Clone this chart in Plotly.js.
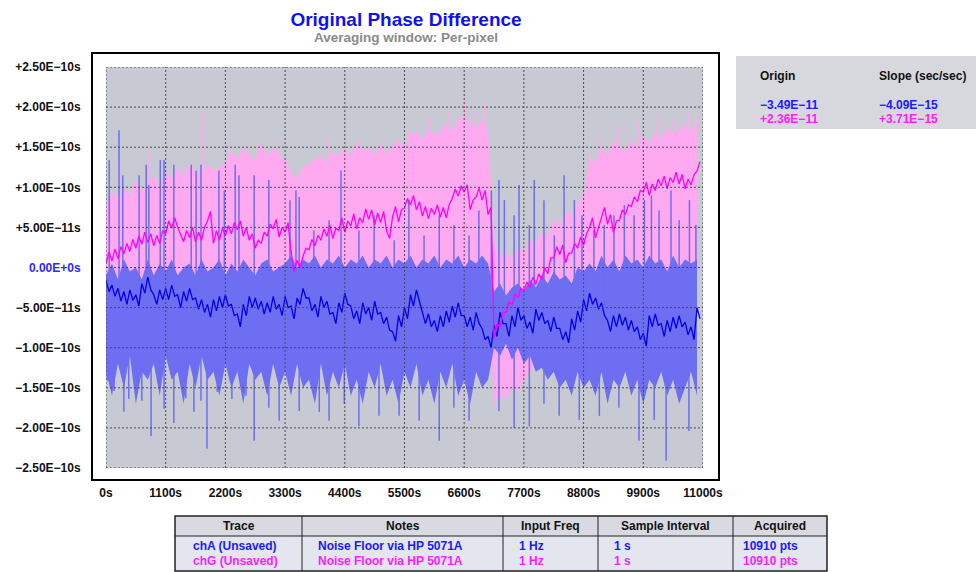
<!DOCTYPE html>
<html><head><meta charset="utf-8">
<script src="https://cdn.plot.ly/plotly-3.0.1.min.js"></script>
<style>html,body{margin:0;padding:0;background:#fff;}#chart{width:976px;height:572px;}</style>
</head><body><div id="chart"></div>
<script>
// ---- data (values in units of 1E-11 s) ----
// envelope sampling times (s)
const T = [0,110,220,330,440,550,660,770,880,990,
1100,1210,1320,1430,1540,1650,1760,1870,1980,2090,
2200,2310,2420,2530,2640,2750,2860,2970,3080,3190,
3300,3410,3520,3630,3740,3850,3960,4070,4180,4290,
4400,4510,4620,4730,4840,4950,5060,5170,5280,5390,
5500,5610,5720,5830,5940,6050,6160,6270,6380,6490,
6600,6710,6820,6930,7040,7150,7260,7370,7480,7590,
7700,7810,7920,8030,8140,8250,8360,8470,8580,8690,
8800,8910,9020,9130,9240,9350,9460,9570,9680,9790,
9900,10010,10120,10230,10340,10450,10560,10670,10780,10890];

// per-pixel average line sampling times (s)
const T2 = [0,55,110,165,220,275,330,385,440,495,550,605,660,715,770,825,880,935,990,1045,
1100,1155,1210,1265,1320,1375,1430,1485,1540,1595,1650,1705,1760,1815,1870,1925,1980,2035,2090,2145,
2200,2255,2310,2365,2420,2475,2530,2585,2640,2695,2750,2805,2860,2915,2970,3025,3080,3135,3190,3245,
3300,3355,3410,3465,3520,3575,3630,3685,3740,3795,3850,3905,3960,4015,4070,4125,4180,4235,4290,4345,
4400,4455,4510,4565,4620,4675,4730,4785,4840,4895,4950,5005,5060,5115,5170,5225,5280,5335,5390,5445,
5500,5555,5610,5665,5720,5775,5830,5885,5940,5995,6050,6105,6160,6215,6270,6325,6380,6435,6490,6545,
6600,6655,6710,6765,6820,6875,6930,6985,7040,7095,7150,7205,7260,7315,7370,7425,7480,7535,7590,7645,
7700,7755,7810,7865,7920,7975,8030,8085,8140,8195,8250,8305,8360,8415,8470,8525,8580,8635,8690,8745,
8800,8855,8910,8965,9020,9075,9130,9185,9240,9295,9350,9405,9460,9515,9570,9625,9680,9735,9790,9845,
9900,9955,10010,10065,10120,10175,10230,10285,10340,10395,10450,10505,10560,10615,10670,10725,10780,10835,10890,10945];

const chG_mean = [0.5,1.9,0.8,2.3,1.1,2.6,1.7,3.0,2.0,3.5,2.4,3.9,2.9,4.4,3.1,4.2,2.7,4.0,3.0,4.6,
4.2,5.8,4.9,6.2,5.0,4.0,3.2,4.6,3.7,5.0,3.2,4.4,3.4,5.0,5.8,7.0,3.0,4.6,3.4,4.9,
4.0,5.2,4.2,5.6,4.7,5.8,3.9,5.0,3.4,4.2,2.4,3.4,3.0,4.4,3.9,5.4,4.8,6.0,3.8,5.0,
4.4,5.6,2.0,-0.6,0.9,0.0,1.4,2.4,2.2,3.5,2.7,4.0,3.4,4.8,3.9,5.3,3.6,4.9,4.6,6.2,
4.4,5.8,5.2,6.7,4.8,6.2,5.6,7.3,6.0,7.2,5.3,6.8,5.6,7.0,4.6,3.6,6.3,7.6,5.7,7.2,
7.4,8.6,7.8,9.0,7.2,8.2,6.4,7.6,6.1,7.4,6.6,7.8,6.3,7.5,6.2,7.9,8.6,9.8,8.9,10.2,
9.4,10.3,7.2,8.4,8.8,9.9,8.4,9.6,6.6,7.5,-8.8,-7.0,-7.4,-5.6,-5.6,-4.3,-4.6,-3.3,-3.8,-2.6,
-2.9,-1.8,-2.5,-1.2,-2.1,-0.8,-1.5,0.0,-0.8,1.2,1.2,2.6,1.6,2.8,0.6,1.8,1.8,3.0,2.4,3.8,
2.8,4.2,5.0,6.2,3.7,5.0,6.2,7.5,5.4,6.6,4.4,5.8,5.9,7.2,6.6,7.8,7.6,8.8,8.2,9.6,
9.4,10.6,9.0,10.4,9.6,11.0,10.2,11.4,9.8,11.2,10.6,11.9,10.4,11.6,9.8,11.0,10.3,11.6,12.0,13.2];

const chA_mean = [-1.6,-3.0,-2.2,-3.6,-2.6,-4.2,-3.0,-4.6,-2.8,-4.1,-3.4,-4.8,-2.0,-3.2,-1.2,-2.8,-3.4,-4.6,-2.8,-4.0,
-2.6,-4.0,-2.2,-3.6,-3.4,-5.0,-3.0,-4.2,-2.6,-4.0,-3.8,-5.2,-4.0,-5.6,-4.6,-6.2,-4.0,-5.4,-3.6,-5.0,
-3.4,-4.8,-4.6,-6.0,-5.8,-7.4,-4.6,-6.0,-3.6,-5.0,-3.8,-5.2,-4.2,-5.8,-4.4,-5.6,-3.6,-5.2,-4.6,-6.0,
-3.6,-5.0,-4.8,-6.4,-3.8,-4.6,-2.6,-3.8,-3.8,-5.4,-4.6,-6.2,-3.6,-5.0,-4.2,-5.8,-5.6,-7.0,-4.4,-5.6,
-3.2,-4.6,-4.8,-6.4,-5.4,-7.0,-4.4,-5.8,-5.0,-6.6,-4.2,-5.8,-5.6,-7.0,-6.2,-7.8,-8.0,-9.2,-6.0,-7.4,
-5.0,-6.4,-3.4,-4.8,-2.8,-4.2,-5.4,-7.0,-5.8,-7.4,-6.6,-8.0,-6.0,-7.4,-5.4,-6.8,-4.8,-6.2,-4.4,-6.0,
-6.0,-7.4,-6.2,-7.8,-5.6,-7.0,-7.6,-9.0,-8.6,-10.0,-7.2,-8.6,-5.6,-7.0,-7.0,-8.6,-6.0,-7.4,-5.0,-6.6,
-6.0,-7.6,-6.8,-8.2,-5.2,-6.6,-5.6,-7.0,-6.6,-8.0,-6.2,-7.6,-7.6,-9.0,-8.0,-9.4,-6.4,-7.8,-5.4,-6.8,
-4.0,-5.4,-3.2,-4.6,-3.8,-5.2,-4.4,-6.0,-6.6,-8.0,-6.0,-7.4,-5.8,-7.2,-6.2,-7.8,-6.6,-8.0,-7.4,-9.0,
-8.2,-9.8,-6.0,-7.4,-5.8,-7.2,-7.0,-8.6,-6.6,-8.0,-6.2,-7.6,-6.0,-7.4,-6.8,-8.4,-7.4,-9.0,-5.0,-6.4];

const chG_max = [8,9.5,8.5,10,9,11,9.5,10.5,11.5,10,
12,11,12.5,11.5,13,12,11.5,13,12,12.5,
13,14.5,13.5,15,14,13.5,15.5,14,15,14,
13.5,12,11,12.5,13,13.5,14,13,14.5,14,
15,14,15.5,14.5,15,14,15.5,14,15,16,
15,16.5,17,16,17.5,16.5,17,18,17,18.5,
19,18,17.5,18.5,17,3,1.5,2,1,2.5,
2,3.5,3,4.5,4,6,5.5,7,6.5,8,
9,14,13,15,14,16,15,14.5,16,15,
16.5,15.5,17,16,17.5,16.5,17,18,17,18.5];

const chG_min = [-2,-4,-3,-2.5,-4,-3,-2,-3.5,-4,-2.5,
-3,-4,-2.5,-3.5,-2,-4,-3,-2.5,-3.5,-4,
-3,-2,-4,-3.5,-2.5,-3,-4,-2,-3.5,-3,
-2.5,-5,-4.5,-4,-3,-3.5,-2.5,-4,-3,-2,
-3.5,-3,-2,-4,-2.5,-3,-3.5,-4,-2,-3,
-2.5,-3.5,-2,-3,-4,-2.5,-3,-2,-3.5,-2.5,
-3,-2,-3.5,-2.5,-3,-17,-16,-16.5,-15,-15.5,
-14,-13,-12,-11,-10,-9,-8,-7,-6,-5,
-2.5,-2,-2,-1.5,-1.5,-1,-1,-1.5,-1,-1,
-1.5,-1,-1,-1.5,-1,-1,-1.5,-1,-1,-1.5];

const chA_max = [-1,0.5,-1.5,1,-0.5,0,-1.5,1,-1,0.5,
-0.5,1,-1,0,0.5,-1,1,-0.5,0,1,
-1,0.5,-0.5,1,0,-1,0.5,1,-0.5,0,
0.5,1.5,0,1,0.5,1.5,0,1,0.5,1.5,
0,1,0.5,1.5,0,1,0.5,1.5,0,1,
0.5,1.5,0,1,0.5,1.5,0,1,0.5,1.5,
0,1,0.5,1.5,0.5,-3,-2,-3.5,-2.5,-2,
-3,-1.5,-2.5,-1,-2,-0.5,-1.5,-1,-2,0,
-0.5,0.5,-0.5,1.5,0,1,-0.5,1.5,0.5,1,
0,1.5,0.5,1,-0.5,1.5,0,1,0.5,1];

const chA_min = [-13,-16,-12,-15,-11,-17,-13,-14,-12,-16,
-11,-14,-13,-17,-12,-15,-11,-14,-13,-16,
-12,-15,-13,-17,-12,-14,-13,-16,-12,-15,
-13,-16,-12,-15,-14,-17,-12,-16,-13,-15,
-12,-16,-14,-17,-13,-15,-12,-16,-14,-17,
-13,-15,-12,-16,-14,-17,-13,-15,-12,-16,
-14,-17,-13,-15,-14,-10,-11,-9.5,-11.5,-10,
-12,-11,-13,-12.5,-14,-13,-15,-14,-16,-13,
-15,-14,-16,-13,-17,-14,-15,-13,-16,-14,
-17,-14,-15,-13,-16,-14,-17,-15,-13,-16];

// isolated extreme excursions (time s, tip value 1E-11 s)
const chA_upT = [60,240,310,610,740,790,1000,1070,1250,1570,1660,1750,2080,2180,2380,2450,2730,3000,3390,3500,3560,3830,4110,4330,4660,4940,5310,5580,5860,6140,6410,6690,6870,7100,7240,7340,7520,7610,7800,7890,8070,8260,8440,8630,8770,8990,9180,9360,9550,9730,9920,10050,10190,10410,10560,10750,10870];
const chA_upV = [13.4,17.1,11.5,11.5,12.8,10.3,13.4,13.4,12.8,12.8,12.1,12.8,12.1,9.6,12.8,11.5,11.5,10.9,8.4,9.6,8.8,4.6,5.9,12.1,4.6,6.5,3.4,8.4,4.0,6.5,5.3,4.0,7.1,9.6,10.9,8.4,6.5,10.3,5.3,10.9,8.4,4.0,11.5,8.4,6.5,4.6,5.3,6.5,7.8,6.5,8.4,9.0,7.1,9.6,5.9,8.4,5.3];
const chA_dnT = [20,150,330,420,660,830,1070,1250,1470,1620,1750,1860,2050,2320,2580,2730,3000,3190,3560,3930,4110,4390,4660,5030,5400,5770,6140,6410,6690,7240,7520,7800,8070,8350,8720,9090,9450,9820,10100,10320,10740];
const chA_dnV = [-14.1,-15.4,-18,-16.4,-16.6,-21.0,-17.6,-19.4,-16.3,-18,-16.6,-22.6,-15.5,-16.4,-16.0,-21.6,-17.5,-19.1,-17.9,-18,-19.1,-17,-19.8,-18.5,-18.5,-19.1,-21.6,-17.5,-19.1,-17.9,-20,-19.8,-17,-18.5,-19,-18.5,-17.5,-21.6,-19,-24.1,-20.4];
const chG_upT = [240,790,1770,2270,2820,3190,4110,4660,5220,5580,5950,6320,6600,6780,6970,9090,9450,9820,10190,10470,10740,10870];
const chG_upV = [13.4,14.6,19.3,15.9,15.3,15.9,16.5,15.9,15.9,17.1,19.0,19.6,20.9,19.6,20.3,16.5,17.8,18.4,19.0,18.4,19.6,19.0];

const xTickVals = [0,1100,2200,3300,4400,5500,6600,7700,8800,9900,11000];
const xTickText = ['0s','1100s','2200s','3300s','4400s','5500s','6600s','7700s','8800s','9900s','11000s'];
const yTickVals = [25,20,15,10,5,0,-5,-10,-15,-20,-25];
const yTickText = ['+2.50E\u221210s','+2.00E\u221210s','+1.50E\u221210s','+1.00E\u221210s','+5.00E\u221211s',
  '<span style="color:#2a2aff">0.00E+0s</span>','\u22125.00E\u221211s','\u22121.00E\u221210s','\u22121.50E\u221210s','\u22122.00E\u221210s','\u22122.50E\u221210s'];

const tableHead = ['Trace','Notes','Input Freq','Sample Interval','Acquired'];
const rowA = ['chA (Unsaved)','Noise Floor via HP 5071A','1 Hz','1 s','10910 pts'];
const rowG = ['chG (Unsaved)','Noise Floor via HP 5071A','1 Hz','1 s','10910 pts'];
const fitHead = ['Origin','Slope (sec/sec)'];
const fitA = ['\u22123.49E\u221211','\u22124.09E\u221215'];
const fitG = ['+2.36E\u221211','+3.71E\u221215'];

// ---- styling ----
const S = 1e-11;
const sc = a => a.map(v => v * S);
const BLUE = '#1a1aff', MAG = '#ff1aff';
const FONT = 'Liberation Sans, Arial, sans-serif';

function band(hi, lo, color) {
  return {x: T.concat(T.slice().reverse()), y: sc(hi.concat(lo.slice().reverse())),
    mode: 'lines', fill: 'toself', fillcolor: color, line: {width: 0, color: color}, hoverinfo: 'skip'};
}
function spikes(ts, vs, base, color) {
  const x = [], y = [];
  ts.forEach((t, i) => { x.push(t, t, null); y.push(vs[i] * S, base * S, null); });
  return {x, y, mode: 'lines', line: {width: 1.5, color: color}, hoverinfo: 'skip'};
}

const traces = [
  band(chG_max, chG_min, '#ffaaf0'),
  spikes(chG_upT, chG_upV, 5, '#ffaaf0'),
  band(chA_max, chA_min, '#6e6ef2'),
  spikes(chA_upT, chA_upV, -5, '#6e6ef2'),
  spikes(chA_dnT, chA_dnV, -5, '#6e6ef2'),
  {x: T2, y: sc(chA_mean), mode: 'lines', line: {color: '#0000e6', width: 1.3}},
  {x: T2, y: sc(chG_mean), mode: 'lines', line: {color: '#ff00ff', width: 1.3}}
];

// pixel -> paper helpers
const ML = 106, MT = 67, PW = 597, PH = 401;
const px = p => (p - ML) / PW;
const py = p => (MT + PH - p) / PH;

const shapes = [];
xTickVals.forEach(v => shapes.push({type: 'line', xref: 'x', yref: 'paper', x0: v, x1: v, y0: 0, y1: 1,
  line: {color: '#4a4a4a', width: 1, dash: '2px,2px'}, layer: 'above'}));
yTickVals.forEach(v => shapes.push({type: 'line', xref: 'paper', yref: 'y', x0: 0, x1: 1, y0: v * S, y1: v * S,
  line: {color: '#4a4a4a', width: 1, dash: '2px,2px'}, layer: 'above'}));
// frame
shapes.push({type: 'rect', xref: 'paper', yref: 'paper', x0: px(92), x1: px(719), y0: py(480), y1: py(53),
  line: {color: '#000', width: 2}, layer: 'above'});
// fit panel
shapes.push({type: 'rect', xref: 'paper', yref: 'paper', x0: px(736), x1: px(977), y0: py(129), y1: py(56),
  fillcolor: '#d6d8de', line: {width: 0}, layer: 'below'});
// table
const colX = [175, 302, 503, 598, 733, 827];
shapes.push({type: 'rect', xref: 'paper', yref: 'paper', x0: px(175), x1: px(827), y0: py(571), y1: py(536),
  fillcolor: '#e4e6ef', line: {width: 0}, layer: 'below'});
shapes.push({type: 'rect', xref: 'paper', yref: 'paper', x0: px(175), x1: px(827), y0: py(536), y1: py(516),
  fillcolor: '#d9dae1', line: {width: 0}, layer: 'below'});
shapes.push({type: 'rect', xref: 'paper', yref: 'paper', x0: px(175), x1: px(827), y0: py(571), y1: py(516),
  line: {color: '#222', width: 1.5}, layer: 'above'});
shapes.push({type: 'line', xref: 'paper', yref: 'paper', x0: px(175), x1: px(827), y0: py(536), y1: py(536),
  line: {color: '#222', width: 1}, layer: 'above'});
colX.slice(1, 5).forEach(c => shapes.push({type: 'line', xref: 'paper', yref: 'paper', x0: px(c), x1: px(c),
  y0: py(571), y1: py(516), line: {color: '#222', width: 1}, layer: 'above'}));

const anns = [];
function ann(text, x, y, color, xanchor, size, bold) {
  anns.push({text, x: px(x), y: py(y), xref: 'paper', yref: 'paper', showarrow: false,
    xanchor: xanchor, yanchor: 'middle',
    font: {family: FONT, size: size, color: color, weight: bold ? 'bold' : 'normal'}});
}
ann('Averaging window: Per-pixel', 406, 37, '#8a8a8a', 'center', 13.5, true);
ann(fitHead[0], 758, 76, '#111', 'left', 12, true);
ann(fitHead[1], 877, 76, '#111', 'left', 12, true);
ann(fitA[0], 758, 105, BLUE, 'left', 12, true);
ann(fitA[1], 877, 105, BLUE, 'left', 12, true);
ann(fitG[0], 758, 119, MAG, 'left', 12, true);
ann(fitG[1], 877, 119, MAG, 'left', 12, true);
tableHead.forEach((h, i) => ann(h, (colX[i] + colX[i + 1]) / 2, 526, '#111', 'center', 12, true));
const dataX = [191, 316, 517, 612, 741];
rowA.forEach((t, i) => ann(t, dataX[i], 546, BLUE, 'left', 12, true));
rowG.forEach((t, i) => ann(t, dataX[i], 561, MAG, 'left', 12, true));

const layout = {
  width: 976, height: 572,
  margin: {l: ML, r: 976 - ML - PW, t: MT, b: 572 - MT - PH},
  paper_bgcolor: '#ffffff', plot_bgcolor: '#c7cad2',
  showlegend: false, hovermode: false,
  title: {text: 'Original Phase Difference', x: 406 / 976, xref: 'container', xanchor: 'center',
    y: 1 - 19 / 572, yref: 'container', yanchor: 'middle',
    font: {family: FONT, size: 19, color: '#1010f0', weight: 'bold'}},
  xaxis: {range: [0, 11000], tickvals: xTickVals, ticktext: xTickText, showgrid: false, zeroline: false,
    showline: false, ticks: 'outside', ticklen: 14, tickcolor: 'rgba(0,0,0,0)',
    tickfont: {family: FONT, size: 12, color: '#111', weight: 'bold'}, fixedrange: true},
  yaxis: {range: [-25 * S, 25 * S], tickvals: yTickVals.map(v => v * S), ticktext: yTickText, showgrid: false,
    zeroline: false, showline: false, ticks: 'outside', ticklen: 22, tickcolor: 'rgba(0,0,0,0)',
    tickfont: {family: FONT, size: 12, color: '#111', weight: 'bold'}, fixedrange: true},
  shapes: shapes, annotations: anns
};
Plotly.newPlot('chart', traces, layout, {staticPlot: true, displayModeBar: false});
</script></body></html>
